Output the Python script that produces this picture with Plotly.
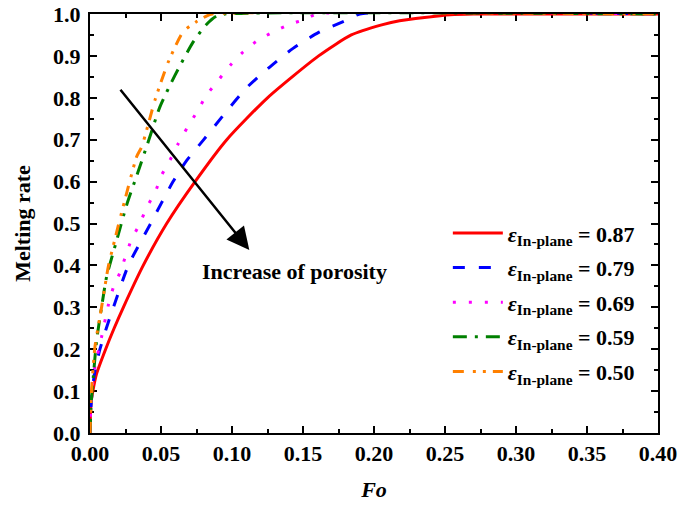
import plotly.graph_objects as go

# ---- data ----
fo_087 = [0, 0.0003, 0.0008, 0.002, 0.0045, 0.011, 0.017, 0.0235, 0.0375, 0.054, 0.074,
          0.0963, 0.125, 0.161, 0.184, 0.2054, 0.218, 0.2535, 0.27, 0.40]
mr_087 = [0, 0.045, 0.075, 0.10, 0.14, 0.20, 0.25, 0.30, 0.40, 0.50, 0.60,
          0.70, 0.80, 0.90, 0.95, 0.974, 0.984, 0.998, 1.0, 1.0]

fo_079 = [0, 0.0005, 0.0012, 0.0035, 0.007, 0.0115, 0.0165, 0.027, 0.0427, 0.0585, 0.068, 0.0798,
          0.095, 0.110, 0.1268, 0.143, 0.161, 0.181, 0.19, 0.40]
mr_079 = [0, 0.05, 0.087, 0.15, 0.20, 0.25, 0.30, 0.40, 0.50, 0.60, 0.65, 0.699,
          0.763, 0.823, 0.874, 0.918, 0.956, 0.986, 1.0, 1.0]

fo_069 = [0, 0.0008, 0.003, 0.0082, 0.0129, 0.0164, 0.0211, 0.029, 0.035, 0.040, 0.0458, 0.0505,
          0.0563, 0.0622, 0.0685, 0.0756, 0.082, 0.0904, 0.0986, 0.108, 0.1185, 0.1296, 0.1404,
          0.152, 0.16, 0.40]
mr_069 = [0, 0.08, 0.15, 0.23, 0.305, 0.347, 0.383, 0.46, 0.499, 0.539, 0.574, 0.616,
          0.651, 0.691, 0.729, 0.768, 0.806, 0.842, 0.877, 0.91, 0.938, 0.958, 0.975,
          0.988, 1.0, 1.0]

fo_059 = [0, 0.0008, 0.0023, 0.0047, 0.0082, 0.0117, 0.0188, 0.0258, 0.0335, 0.041, 0.0493,
          0.0599, 0.0728, 0.082, 0.089, 0.095, 0.40]
mr_059 = [0, 0.07, 0.134, 0.222, 0.301, 0.373, 0.46, 0.544, 0.62, 0.695, 0.779,
          0.854, 0.934, 0.975, 0.995, 1.0, 1.0]

fo_050 = [0, 0.0006, 0.0012, 0.0035, 0.0082, 0.0129, 0.020, 0.027, 0.0329, 0.0364, 0.0458,
          0.0552, 0.0657, 0.0751, 0.082, 0.086, 0.40]
mr_050 = [0, 0.06, 0.107, 0.206, 0.301, 0.397, 0.496, 0.588, 0.66, 0.683, 0.795,
          0.886, 0.958, 0.982, 0.995, 1.0, 1.0]

porosity_labels = ["0.87", "0.79", "0.69", "0.59", "0.50"]
x_ticks = [0.00, 0.05, 0.10, 0.15, 0.20, 0.25, 0.30, 0.35, 0.40]
y_ticks = [0.0, 0.1, 0.2, 0.3, 0.4, 0.5, 0.6, 0.7, 0.8, 0.9, 1.0]

series = [
    (fo_087, mr_087, "#FF0000", "solid"),
    (fo_079, mr_079, "#0000FF", "12px,14px"),
    (fo_069, mr_069, "#FF00FF", "3px,13px"),
    (fo_059, mr_059, "#008000", "14px,8px,3px,8px"),
    (fo_050, mr_050, "#FF8000", "11px,9px,3px,7px,3px,7px"),
]

FONT = "Liberation Serif, Times New Roman, serif"

fig = go.Figure()
for (xs, ys, col, dash), lab in zip(series, porosity_labels):
    fig.add_trace(go.Scatter(
        x=xs, y=ys, mode="lines",
        line=dict(color=col, width=3, dash=dash, shape="spline", smoothing=0.6),
        name="<i>ε</i><sub>In-plane</sub> = " + lab,
        legendgroup=lab,
    ))

axis_common = dict(
    showline=True, linecolor="black", linewidth=2, mirror="allticks",
    ticks="inside", ticklen=7, tickwidth=2, tickcolor="black",
    showgrid=False, zeroline=False, automargin=False,
    tickfont=dict(family=FONT, size=22, color="black", weight="bold"),
    layer="below traces",
)

fig.update_xaxes(
    range=[0, 0.40], tickvals=x_ticks, ticktext=[f"{v:.2f}" for v in x_ticks],
    minor=dict(dtick=0.025, tick0=0, ticks="inside", ticklen=4, tickwidth=2, tickcolor="black"),
    title=dict(text="<i>Fo</i>", font=dict(family=FONT, size=22, color="black", weight="bold"), standoff=16),
    **axis_common,
)
fig.update_yaxes(
    range=[0, 1.0], tickvals=y_ticks, ticktext=[f"{v:.1f}" for v in y_ticks],
    minor=dict(dtick=0.05, tick0=0, ticks="inside", ticklen=4, tickwidth=2, tickcolor="black"),
    title=dict(text="Melting rate", font=dict(family=FONT, size=22, color="black", weight="bold"), standoff=16),
    ticklabelstandoff=3,
    **axis_common,
)

# arrow
fig.add_annotation(
    x=0.1122, y=0.4368, ax=0.0206, ay=0.8227,
    xref="x", yref="y", axref="x", ayref="y",
    text="", showarrow=True, arrowhead=2, arrowsize=1.8, arrowwidth=2.5, arrowcolor="black",
)
fig.add_annotation(
    x=0.1437, y=0.385, xref="x", yref="y", text="Increase of porosity",
    showarrow=False, font=dict(family=FONT, size=22, color="black", weight="bold"),
)

fig.update_layout(
    width=696, height=505,
    margin=dict(l=90, r=38, t=14, b=72),
    paper_bgcolor="white", plot_bgcolor="white",
    font=dict(family=FONT, color="black"),
    showlegend=True,
    legend=dict(
        x=0.63, y=0.527, xanchor="left", yanchor="top",
        font=dict(family=FONT, size=22, color="black", weight="bold"),
        bgcolor="rgba(0,0,0,0)", tracegroupgap=3, itemwidth=50,
    ),
)

fig.write_html("out.html")
